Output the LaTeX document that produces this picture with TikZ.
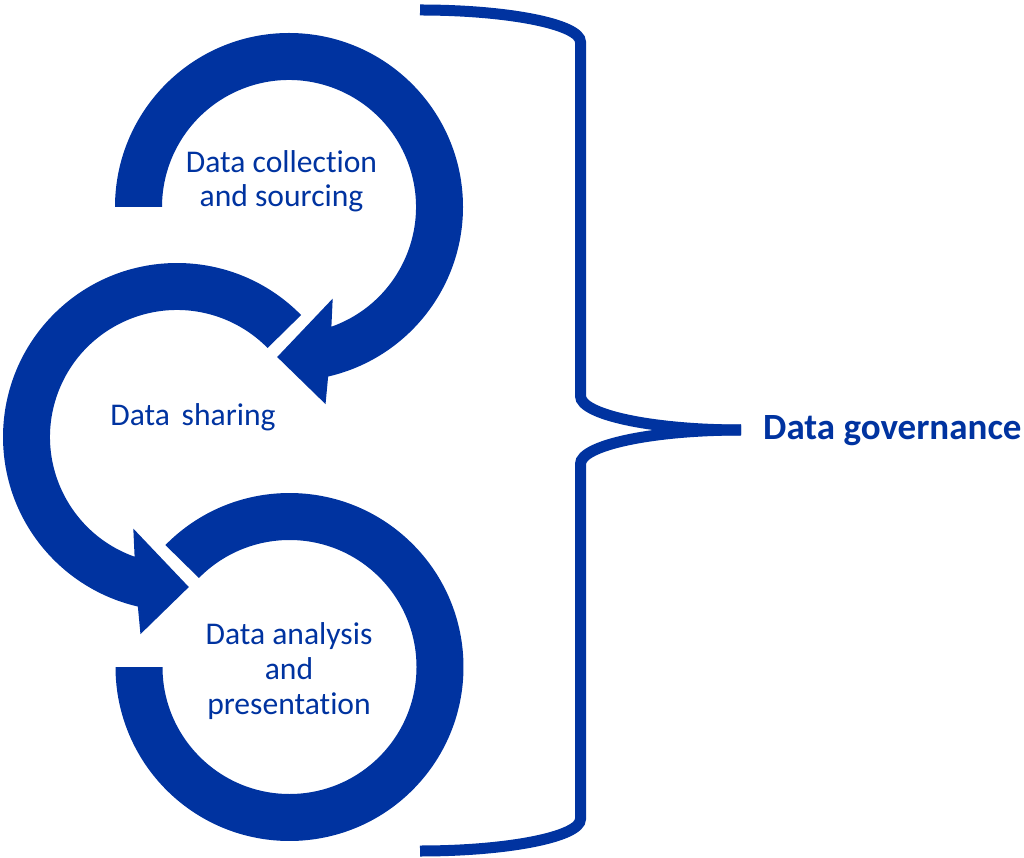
\documentclass[tikz,border=0pt]{standalone}
\usepackage{fontspec}
\setmainfont[Ligatures=NoCommon]{Carlito}
\definecolor{dgblue}{RGB}{0,51,160}
\begin{document}
\begin{tikzpicture}[x=1pt,y=1pt,
  band/.style={fill=dgblue},
  lbl/.style={text=dgblue, inner sep=0pt, anchor=base, font=\fontsize{31.6}{34}\selectfont},
  biglbl/.style={text=dgblue, inner sep=0pt, anchor=base west, font=\fontsize{37}{40}\selectfont\bfseries},
  bracestroke/.style={draw=dgblue, line width=11pt}]
\useasboundingbox (0,0) rectangle (1024,857);
\coordinate (ctop) at (289,650);
\coordinate (cmid) at (177,420);
\coordinate (cbot) at (289.5,190);
% top circular arrow (clockwise)
\fill[band, shift={(ctop)}] (180:174) arc[start angle=180,end angle=-77,radius=174]
  -- (-79.5:200.5) -- (-94.5:150.5) -- (-64.5:101.5) -- (-70.5:127)
  arc[start angle=-70.5,end angle=180,radius=127] -- cycle;
% middle circular arrow (counter-clockwise)
\fill[band, shift={(cmid)}] (44.5:174) arc[start angle=44.5,end angle=257,radius=174]
  -- (259.5:200.5) -- (274.5:150.5) -- (244.5:101.5) -- (250.5:127)
  arc[start angle=250.5,end angle=44.5,radius=127] -- cycle;
% bottom circular band
\fill[band, shift={(cbot)}] (135.5:174) arc[start angle=135.5,end angle=-180,radius=174]
  -- (-180:127) arc[start angle=-180,end angle=135.5,radius=127] -- cycle;
% labels
\node[lbl] (t1a) at (281.5,684) {Data collection};
\node[lbl] (t1b) at (281.5,650.3) {and sourcing};
\node[lbl] (t2) at (193,431) {Data\hspace{0.37em}sharing};
\node[lbl] (t3a) at (289,212.7) {Data analysis};
\node[lbl] (t3b) at (289,177.5) {and};
\node[lbl] (t3c) at (289,142.3) {presentation};
% brace
\coordinate (btop) at (420,847);
\coordinate (btip) at (741,427);
\coordinate (bbot) at (420,6);
\draw[bracestroke] (btop) arc[start angle=90,end angle=0,x radius=160.5,y radius=32]
  -- (580.5,461) arc[start angle=180,end angle=270,x radius=160.5,y radius=34];
\draw[bracestroke] (btip) arc[start angle=90,end angle=180,x radius=160.5,y radius=34]
  -- (580.5,38) arc[start angle=0,end angle=-90,x radius=160.5,y radius=32];
\node[biglbl] (gov) at (763,417.7) {Data governance};
\end{tikzpicture}
\end{document}
